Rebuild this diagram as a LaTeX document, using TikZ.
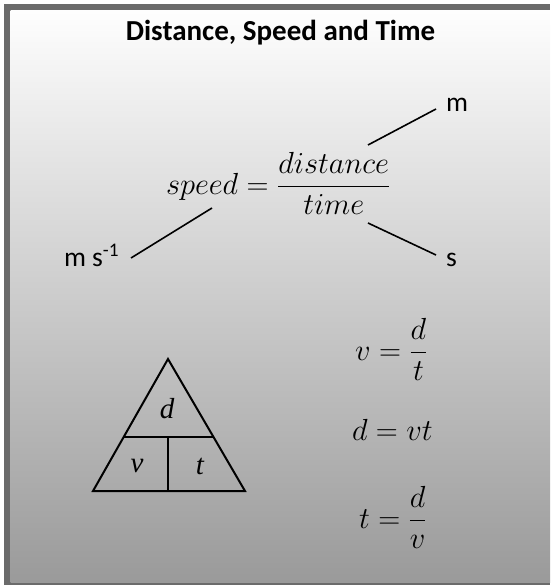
\RequirePackage{fix-cm}
\documentclass[tikz,border=0pt]{standalone}
\usepackage{amsmath}
\usepackage{fontspec}
\setmainfont{Carlito}
\newfontfamily\timesfont{Liberation Serif}
\definecolor{framegray}{HTML}{6B6B6B}
\definecolor{bgtop}{HTML}{FEFEFE}
\definecolor{bgmid}{HTML}{D2D2D2}
\definecolor{bgbot}{HTML}{9A9A9A}
\tikzset{
  txt/.style={inner sep=0pt, outer sep=0pt, anchor=base west},
  eqn/.style={inner sep=0pt, outer sep=0pt, anchor=base west, font=\fontsize{30.5}{36}\selectfont},
  unit/.style={inner sep=0pt, outer sep=0pt, anchor=base west, font=\fontsize{27.5}{33}\selectfont},
  trilbl/.style={inner sep=0pt, outer sep=0pt, font=\timesfont\itshape\fontsize{29}{34}\selectfont},
  conn/.style={line width=1.6pt},
  triline/.style={line width=2pt, line join=miter}
}
\begin{document}
\begin{tikzpicture}[x=1pt,y=-1pt]
\useasboundingbox (0,0) rectangle (550,585);
\fill[white] (0,0) rectangle (550,585);
\fill[framegray] (4,4) rectangle (550,585);
\shade[top color=bgtop, middle color=bgmid, bottom color=bgbot] (10.5,10.5) rectangle (550,582);

% title
\node[txt, anchor=base, font=\bfseries\fontsize{29}{34}\selectfont] (title) at (280.5,41) {Distance, Speed and Time};

% main equation
\node[eqn] (main) at (166,194) {$speed=\dfrac{distance}{time}$};

% units
\node[unit] (um) at (446,112) {m};
\node[unit] (ums) at (64,266) {m s\textsuperscript{-1}};
\node[unit] (us) at (446,266) {s};

\coordinate (a1) at (368,145);
\coordinate (a2) at (436,109);
\coordinate (b1) at (212,208);
\coordinate (b2) at (131,258);
\coordinate (c1) at (368,223);
\coordinate (c2) at (436,255);
\draw[conn] (a1) -- (a2);
\draw[conn] (b1) -- (b2);
\draw[conn] (c1) -- (c2);

% triangle
\coordinate (apex) at (168,359);
\coordinate (bl) at (93,491);
\coordinate (br) at (245,491);
\coordinate (ml) at (123,437);
\coordinate (mr) at (213,437);
\coordinate (mm) at (168,437);
\coordinate (bm) at (168,491);
\draw[triline] (apex) -- (bl) -- (br) -- cycle;
\draw[triline] (ml) -- (mr);
\draw[triline] (mm) -- (bm);
\node[trilbl] (td) at (167,409) {d};
\node[trilbl] (tv) at (137,466) {v};
\node[trilbl] (tt) at (200,466) {t};

% right equations
\node[eqn] (e1) at (355,360) {$v=\dfrac{d}{t}$};
\node[eqn] (e2) at (352,440) {$d=vt$};
\node[eqn] (e3) at (359,528) {$t=\dfrac{d}{v}$};
\end{tikzpicture}
\end{document}
